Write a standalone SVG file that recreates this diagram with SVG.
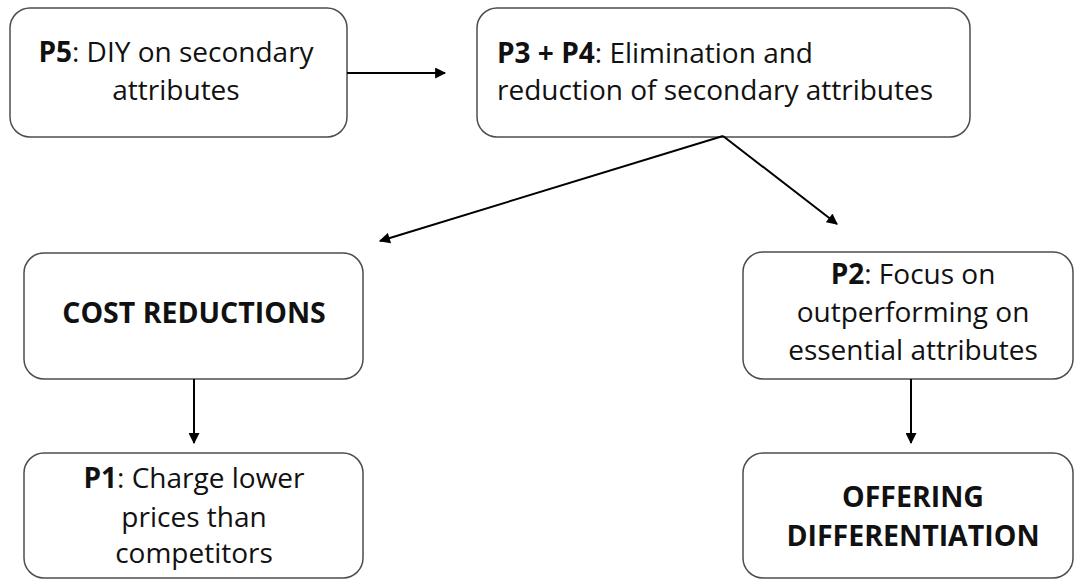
<svg xmlns="http://www.w3.org/2000/svg" width="1074" height="579" viewBox="0 0 1074 579">
<defs>
<marker id="ah" viewBox="0 0 10 10" refX="9" refY="5" markerWidth="6" markerHeight="5.5" orient="auto" markerUnits="strokeWidth">
<path d="M0,0 L10,5 L0,10 z" fill="#000"/>
</marker>
<style>
.box{fill:#fff;stroke:#4d4d4d;stroke-width:1.5}
.t{font-family:"Open Sans","Liberation Sans",sans-serif;font-size:28px;fill:#111}
.c{text-anchor:middle}
.b{font-weight:bold}
.bb{font-weight:bold;font-size:28.5px}
.conn line{stroke:#000;stroke-width:2;marker-end:url(#ah)}
</style>
</defs>
<rect width="1074" height="579" fill="#fff"/>
<g id="n-p5">
<rect class="box" x="10" y="8" width="337" height="129" rx="20"/>
<text class="t c" x="176" y="62"><tspan class="b">P5</tspan>: DIY on secondary</text>
<text class="t c" x="176" y="100">attributes</text>
</g>
<g id="n-p34">
<rect class="box" x="477" y="8" width="493" height="129" rx="20"/>
<text class="t" x="497" y="63"><tspan class="b">P3 + P4</tspan>: Elimination and</text>
<text class="t" x="497" y="100">reduction of secondary attributes</text>
</g>
<g id="n-cost">
<rect class="box" x="24" y="253" width="339" height="126" rx="20"/>
<text class="t c bb" x="194" y="323">COST REDUCTIONS</text>
</g>
<g id="n-p1">
<rect class="box" x="24" y="453" width="339" height="125" rx="20"/>
<text class="t c" x="194" y="488"><tspan class="b">P1</tspan>: Charge lower</text>
<text class="t c" x="194" y="527">prices than</text>
<text class="t c" x="194" y="563">competitors</text>
</g>
<g id="n-p2">
<rect class="box" x="743" y="252" width="330" height="127" rx="20"/>
<text class="t c" x="913" y="284"><tspan class="b">P2</tspan>: Focus on</text>
<text class="t c" x="913" y="322">outperforming on</text>
<text class="t c" x="913" y="360">essential attributes</text>
</g>
<g id="n-off">
<rect class="box" x="743" y="453" width="330" height="125" rx="20"/>
<text class="t c bb" x="913" y="507">OFFERING</text>
<text class="t c bb" x="913" y="546">DIFFERENTIATION</text>
</g>
<g id="connectors" class="conn">
<line x1="347" y1="73" x2="445" y2="73"/>
<line x1="723" y1="136" x2="380" y2="241"/>
<line x1="723" y1="136" x2="837" y2="224"/>
<line x1="194" y1="379" x2="194" y2="443"/>
<line x1="911" y1="379" x2="911" y2="443"/>
</g>
</svg>
